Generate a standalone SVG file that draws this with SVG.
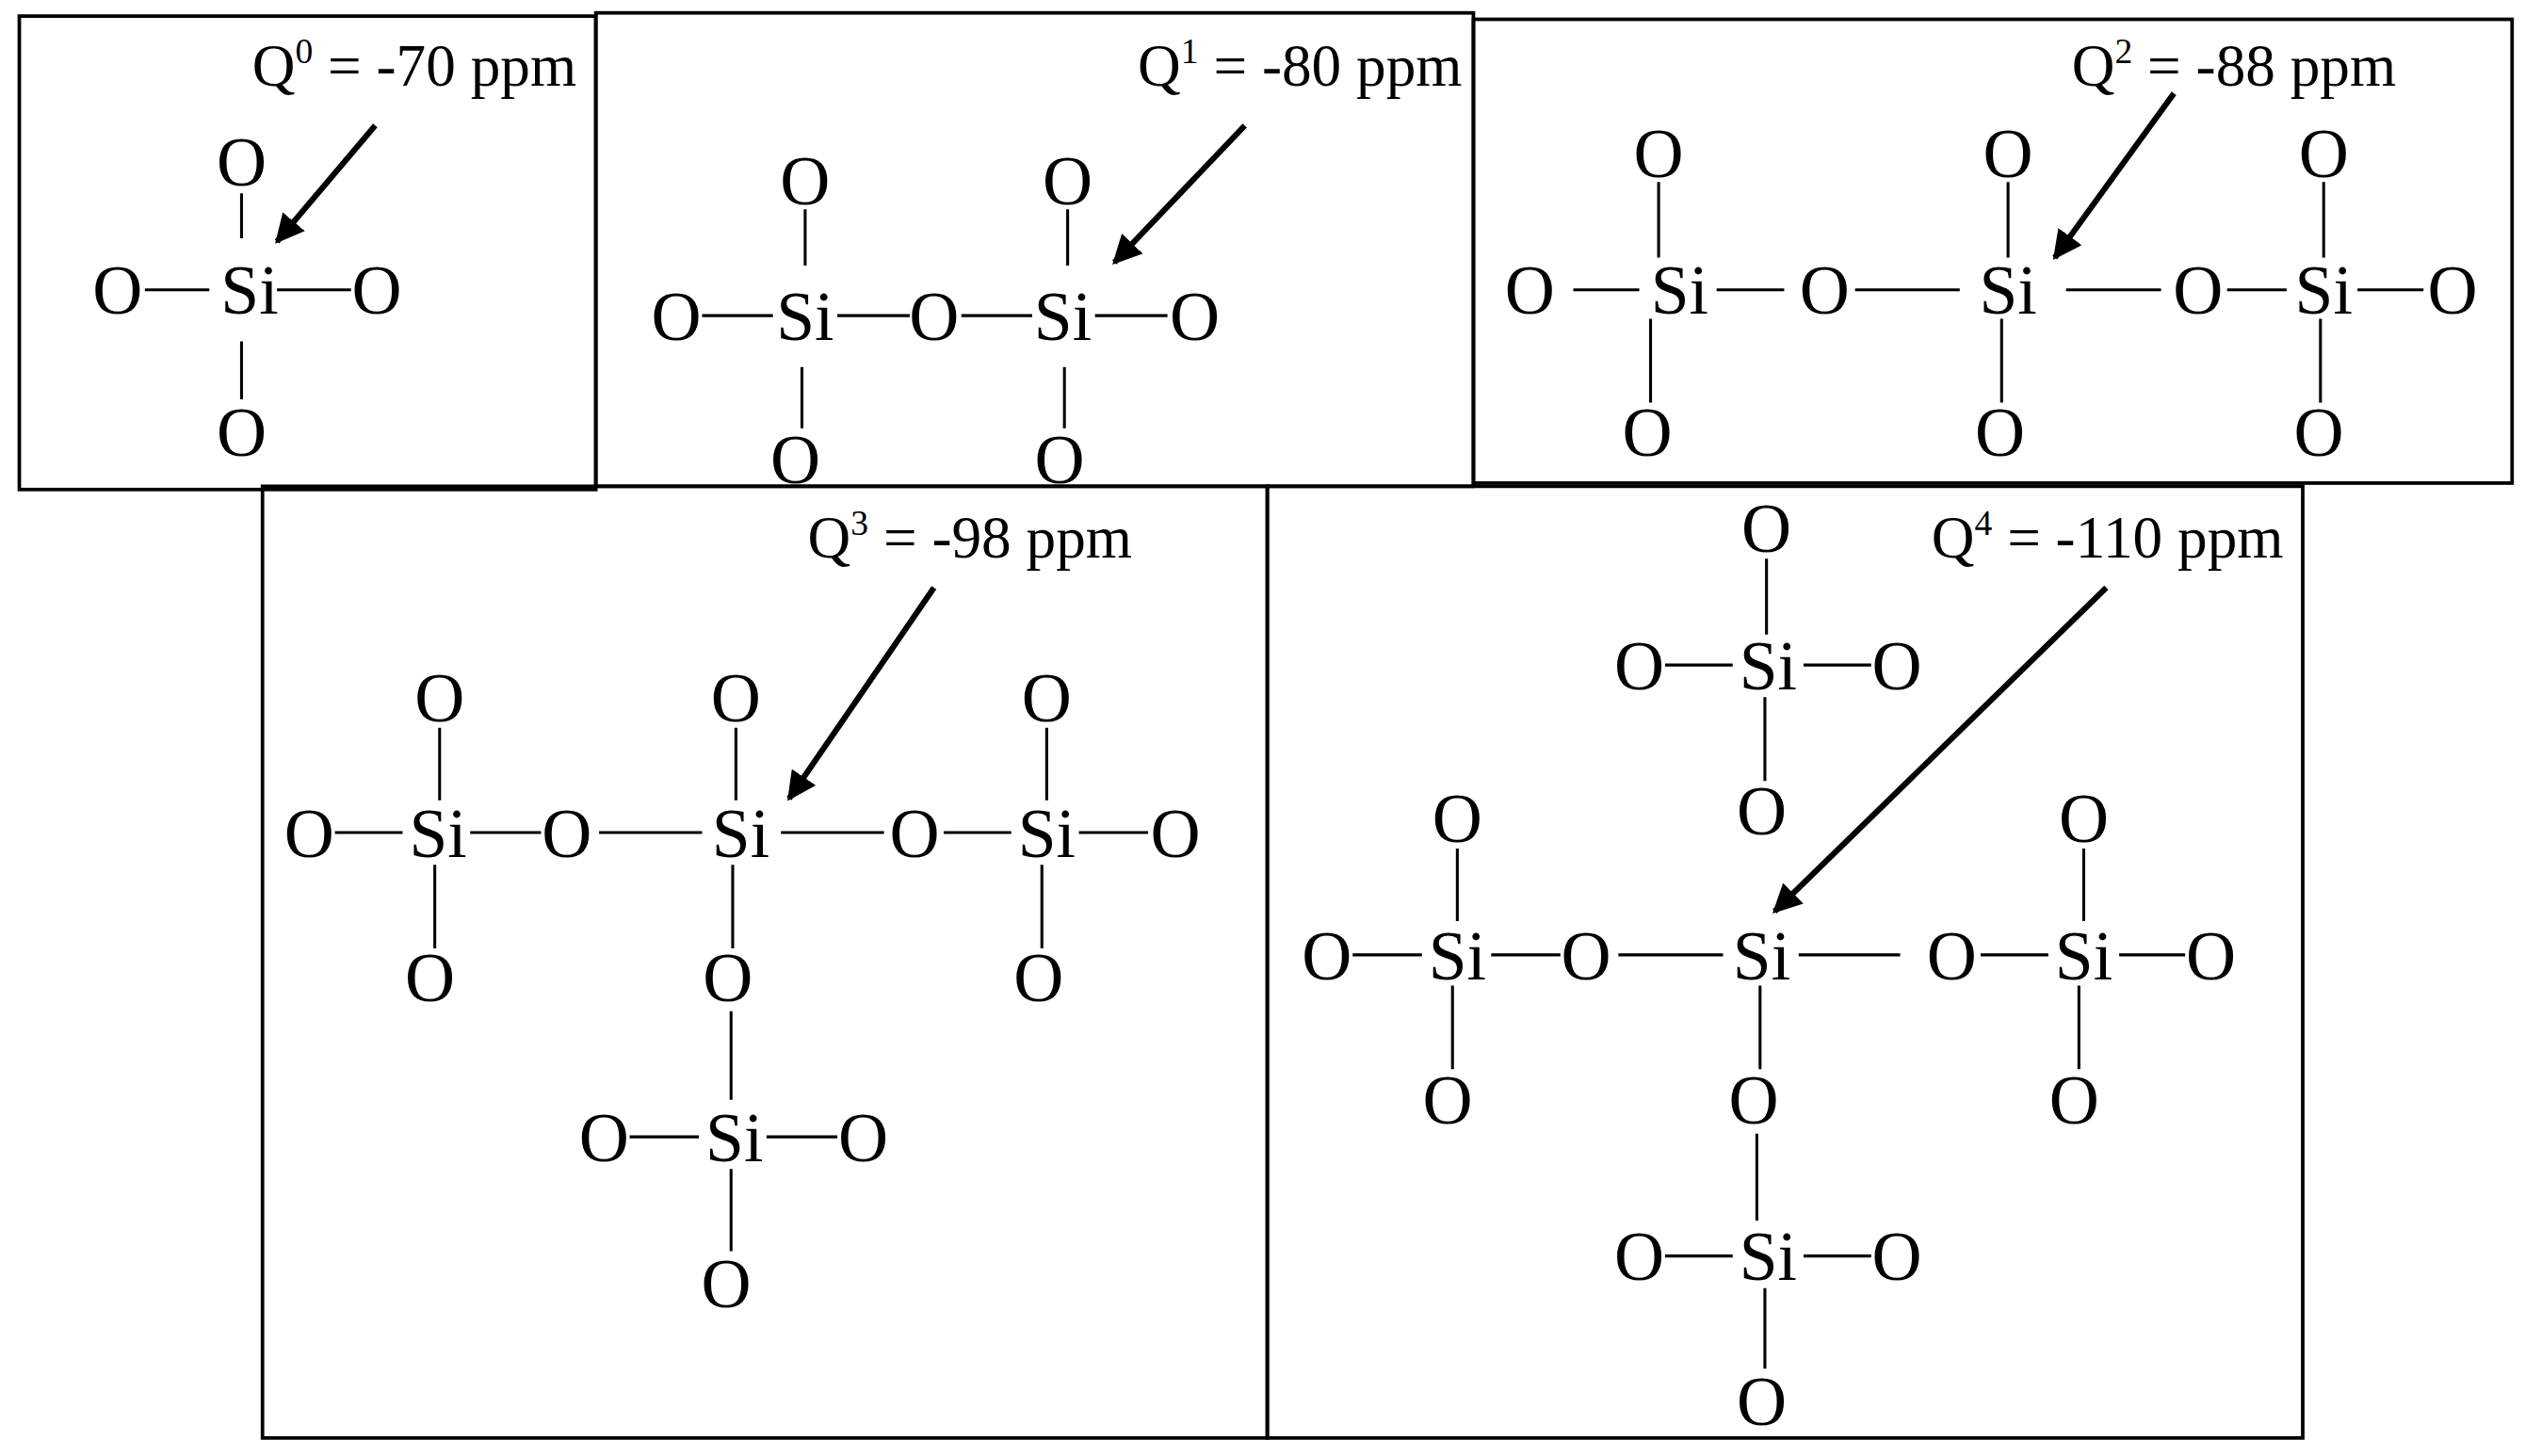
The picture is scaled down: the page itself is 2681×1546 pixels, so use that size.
<svg xmlns="http://www.w3.org/2000/svg" width="2681" height="1546" viewBox="0 0 2681 1546">
<defs>
<style>
text{font-family:"Liberation Serif","Times New Roman",serif;fill:#000}
.a{font-size:43px;text-anchor:middle}
.l{font-size:37px;text-anchor:end}
.s{font-size:22px}
.b{stroke:#000;stroke-width:1.8;fill:none}
.box{stroke:#000;stroke-width:2.2;fill:none}
.ar{stroke:#000;stroke-width:3.6;fill:none}
</style>
<marker id="h" viewBox="0 0 10 10" refX="9" refY="5" markerWidth="5" markerHeight="5" orient="auto" markerUnits="strokeWidth"><path d="M0,0L10,5L0,10z" fill="#000"/></marker>
</defs>
<rect width="2681" height="1546" fill="#fff"/>
<g transform="scale(1.7098)">
<g id="box-q0"><rect class="box" x="12" y="10" width="358" height="294"/>
<text class="l" x="358" y="53">Q<tspan class="s" dy="-14">0</tspan><tspan dy="14"> = -70 ppm</tspan></text>
<text class="a" x="150" y="115">O</text><text class="a" x="155" y="195">Si</text><text class="a" x="73" y="195">O</text><text class="a" x="234" y="195">O</text><text class="a" x="150" y="283">O</text>
<path class="b" d="M150,120V148M150,212V248M90,180H130M172,180H218"/></g>
<g id="box-q1"><rect class="box" x="370" y="8" width="545" height="294"/>
<text class="l" x="908" y="53">Q<tspan class="s" dy="-14">1</tspan><tspan dy="14"> = -80 ppm</tspan></text>
<text class="a" x="420" y="211">O</text><text class="a" x="500" y="211">Si</text><text class="a" x="580" y="211">O</text><text class="a" x="660" y="211">Si</text><text class="a" x="742" y="211">O</text>
<text class="a" x="500" y="127">O</text><text class="a" x="663" y="127">O</text><text class="a" x="494" y="300">O</text><text class="a" x="658" y="300">O</text>
<path class="b" d="M436,196H480M520,196H565M597,196H641M680,196H725M500,130V165M663,130V165M498,228V266M661,228V266"/></g>
<g id="box-q2"><rect class="box" x="915" y="12" width="645" height="288"/>
<text class="l" x="1488" y="53">Q<tspan class="s" dy="-14">2</tspan><tspan dy="14"> = -88 ppm</tspan></text>
<text class="a" x="950" y="195">O</text><text class="a" x="1043" y="195">Si</text><text class="a" x="1133" y="195">O</text><text class="a" x="1247" y="195">Si</text><text class="a" x="1365" y="195">O</text><text class="a" x="1443" y="195">Si</text><text class="a" x="1523" y="195">O</text>
<text class="a" x="1030" y="110">O</text><text class="a" x="1247" y="110">O</text><text class="a" x="1443" y="110">O</text>
<text class="a" x="1023" y="283">O</text><text class="a" x="1242" y="283">O</text><text class="a" x="1440" y="283">O</text>
<path class="b" d="M977,180H1018M1066,180H1108M1152,180H1217M1283,180H1342M1383,180H1420M1464,180H1505M1030,113V160M1247,113V160M1443,113V160M1025,198V250M1243,198V250M1441,198V250"/></g>
<g id="box-q3"><rect class="box" x="163" y="302" width="624" height="591"/>
<text class="l" x="703" y="346">Q<tspan class="s" dy="-14">3</tspan><tspan dy="14"> = -98 ppm</tspan></text>
<text class="a" x="192" y="532">O</text><text class="a" x="272" y="532">Si</text><text class="a" x="352" y="532">O</text><text class="a" x="460" y="532">Si</text><text class="a" x="568" y="532">O</text><text class="a" x="650" y="532">Si</text><text class="a" x="730" y="532">O</text>
<text class="a" x="273" y="448">O</text><text class="a" x="457" y="448">O</text><text class="a" x="650" y="448">O</text>
<text class="a" x="267" y="622">O</text><text class="a" x="452" y="622">O</text><text class="a" x="645" y="622">O</text>
<text class="a" x="375" y="721">O</text><text class="a" x="456" y="721">Si</text><text class="a" x="536" y="721">O</text><text class="a" x="451" y="812">O</text>
<path class="b" d="M208,517H250M292,517H336M372,517H436M485,517H549M586,517H628M670,517H713M273,452V497M457,452V497M650,452V497M270,537V589M455,537V589M647,537V589M454,628V683M391,706H434M476,706H520M454,726V777"/></g>
<g id="box-q4"><rect class="box" x="787" y="302" width="643" height="591"/>
<text class="l" x="1418" y="346">Q<tspan class="s" dy="-14">4</tspan><tspan dy="14"> = -110 ppm</tspan></text>
<text class="a" x="1097" y="343">O</text>
<text class="a" x="1018" y="428">O</text><text class="a" x="1098" y="428">Si</text><text class="a" x="1178" y="428">O</text>
<text class="a" x="1094" y="518">O</text>
<text class="a" x="824" y="608">O</text><text class="a" x="905" y="608">Si</text><text class="a" x="985" y="608">O</text><text class="a" x="1094" y="608">Si</text><text class="a" x="1212" y="608">O</text><text class="a" x="1294" y="608">Si</text><text class="a" x="1373" y="608">O</text>
<text class="a" x="905" y="523">O</text><text class="a" x="1294" y="523">O</text><text class="a" x="899" y="698">O</text><text class="a" x="1288" y="698">O</text>
<text class="a" x="1089" y="698">O</text>
<text class="a" x="1018" y="795">O</text><text class="a" x="1098" y="795">Si</text><text class="a" x="1178" y="795">O</text>
<text class="a" x="1094" y="885">O</text>
<path class="b" d="M1097,347V394M1034,413H1076M1120,413H1162M1096,433V485M840,593H883M926,593H969M1005,593H1070M1117,593H1180M1230,593H1272M1316,593H1357M905,527V572M1294,527V572M902,612V664M1291,612V664M1093,612V664M1091,704V758M1034,780H1076M1120,780H1162M1096,800V850"/></g>
<g id="connectors">
<path class="ar" marker-end="url(#h)" d="M233,78L172,150"/>
<path class="ar" marker-end="url(#h)" d="M773,78L692,163"/>
<path class="ar" marker-end="url(#h)" d="M1350,58L1276,160"/>
<path class="ar" marker-end="url(#h)" d="M580,365L490,496"/>
<path class="ar" marker-end="url(#h)" d="M1308,365L1102,566"/>
</g>
</g>
</svg>
